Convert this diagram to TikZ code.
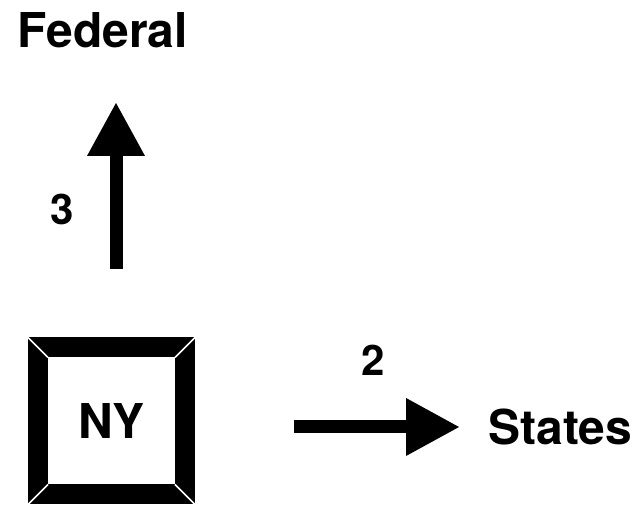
\documentclass[tikz,border=0pt]{standalone}
\usepackage{fontspec}
\setmainfont{TeX Gyre Heros}
\usetikzlibrary{positioning,arrows.meta}

\begin{document}
\begin{tikzpicture}[
    x=1pt, y=1pt,
    >={Triangle[length=54pt,width=54pt]},
    label/.style={
        font=\fontsize{48}{48}\selectfont\bfseries,
        inner sep=0pt
    },
    num/.style={
        font=\fontsize{42}{42}\selectfont\bfseries,
        inner sep=0pt
    },
    framebox/.style={
        draw=black,
        line width=20pt,
        minimum size=147pt,
        inner sep=0pt,
        outer sep=0pt,
        font=\fontsize{48}{48}\selectfont\bfseries
    },
    flow/.style={
        ->,
        line width=13pt
    },
    cut/.style={
        draw=white,
        line width=1.5pt
    }
]
\useasboundingbox (0,0) rectangle (641,514);

% Box
\node[framebox] (ny) at (111.5,93) {NY};
\draw[cut] ([shift={(-11,11)}]ny.north west) -- ([shift={(10,-10)}]ny.north west);
\draw[cut] ([shift={(11,11)}]ny.north east) -- ([shift={(-10,-10)}]ny.north east);
\draw[cut] ([shift={(-11,-11)}]ny.south west) -- ([shift={(10,10)}]ny.south west);
\draw[cut] ([shift={(11,-11)}]ny.south east) -- ([shift={(-10,10)}]ny.south east);

% Targets
\node[label, anchor=base west] (federal) at (17,466) {Federal};
\node[label, anchor=base west] (states) at (488,69) {States};

% Arrows
\coordinate (upfrom) at (116,245);
\coordinate (upto) at (116,412);
\coordinate (rightfrom) at (294,87);
\coordinate (rightto) at (460,87);
\draw[flow] (upfrom) -- (upto);
\draw[flow] (rightfrom) -- (rightto);

% Counts
\node[num] (three) at (62,305) {3};
\node[num] (two) at (373,154) {2};

\end{tikzpicture}
\end{document}
